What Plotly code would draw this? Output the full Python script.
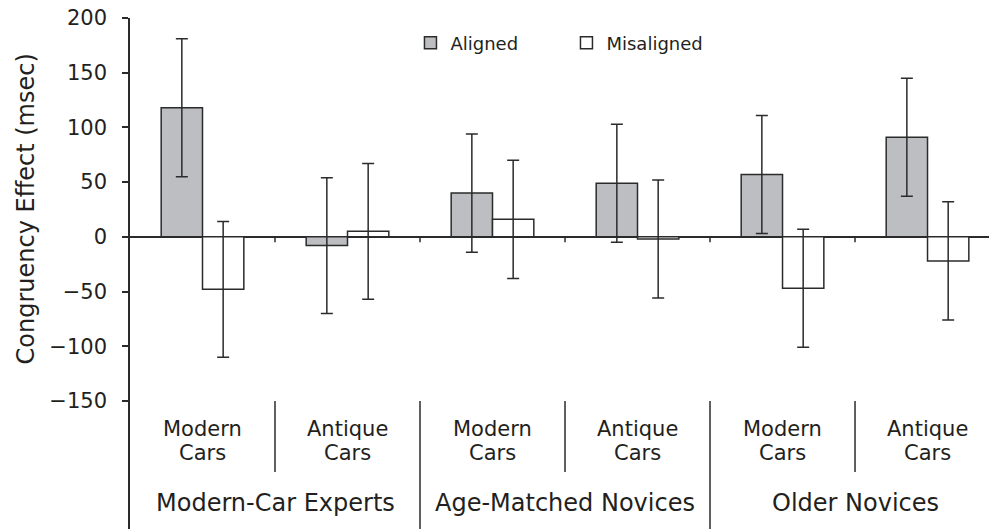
import plotly.graph_objects as go

subcats = ["Modern<br>Cars", "Antique<br>Cars", "Modern<br>Cars", "Antique<br>Cars", "Modern<br>Cars", "Antique<br>Cars"]
groups = ["Modern-Car Experts", "Age-Matched Novices", "Older Novices"]
aligned = [118, -8, 40, 49, 57, 91]
aligned_err = [63, 62, 54, 54, 54, 54]
misaligned = [-48, 5, 16, -2, -47, -22]
misaligned_err = [62, 62, 54, 54, 54, 54]
ytick_vals = [-150, -100, -50, 0, 50, 100, 150, 200]
ytick_text = ["\u2212150", "\u2212100", "\u221250", "0", "50", "100", "150", "200"]
y_title = "Congruency Effect (msec)"

INK = "#231f20"
LINE = "#2b2b2b"
FONT = "DejaVu Sans"
x = list(range(len(subcats)))

fig = go.Figure()
fig.add_trace(go.Bar(
    x=x, y=aligned, name="Aligned",
    marker=dict(color="#bdbec2", line=dict(color=LINE, width=1.5)),
    error_y=dict(type="data", array=aligned_err, visible=True, color=LINE, thickness=1.5, width=6),
))
fig.add_trace(go.Bar(
    x=x, y=misaligned, name="Misaligned",
    marker=dict(color="#ffffff", line=dict(color=LINE, width=1.5)),
    error_y=dict(type="data", array=misaligned_err, visible=True, color=LINE, thickness=1.5, width=6),
))

shapes = []
# small ticks under zero line at category boundaries
for b in [0.5, 1.5, 2.5, 3.5, 4.5]:
    shapes.append(dict(type="line", xref="x", yref="y", x0=b, x1=b, y0=0, y1=-5,
                       line=dict(color=LINE, width=1.5)))
# dividers in label area
for b in [0.5, 2.5, 4.5]:
    shapes.append(dict(type="line", xref="x", yref="y", x0=b, x1=b, y0=-150, y1=-215,
                       line=dict(color=LINE, width=1.5)))
for b in [1.5, 3.5]:
    shapes.append(dict(type="line", xref="x", yref="y", x0=b, x1=b, y0=-150, y1=-270,
                       line=dict(color=LINE, width=1.5)))

annotations = []
line_y = [-175.5, -197.4]
for i, s in enumerate(subcats):
    for k, part in enumerate(s.split("<br>")):
        annotations.append(dict(x=i, y=line_y[k], xref="x", yref="y", text=part, showarrow=False,
                                font=dict(family=FONT, size=21, color=INK), align="center"))
for g, gname in enumerate(groups):
    annotations.append(dict(x=2 * g + 0.5, y=-243, xref="x", yref="y", text=gname, showarrow=False,
                            font=dict(family=FONT, size=24, color=INK)))
annotations.append(dict(x=0, y=25, xref="paper", yref="y", text=y_title, textangle=-90,
                        showarrow=False, xanchor="center", yanchor="middle", xshift=-104,
                        font=dict(family=FONT, size=24, color=INK)))

fig.update_layout(
    width=989, height=529,
    margin=dict(l=130, r=0, t=18, b=0),
    paper_bgcolor="white", plot_bgcolor="white",
    barmode="group", bargap=0.43, bargroupgap=0,
    font=dict(family=FONT, color=INK),
    showlegend=True,
    legend=dict(orientation="h", x=0.3265, y=0.987, xanchor="left", yanchor="top",
                font=dict(family=FONT, size=18, color=INK),
                entrywidth=111, bgcolor="rgba(0,0,0,0)"),
    xaxis=dict(range=[-0.5, 5.424], showticklabels=False, showgrid=False, zeroline=False,
               showline=False, ticks="", automargin=False),
    yaxis=dict(range=[-267, 200], tickvals=ytick_vals, ticktext=ytick_text, automargin=False,
               showgrid=False, zeroline=True, zerolinecolor=LINE, zerolinewidth=1.5,
               showline=True, linecolor=LINE, linewidth=1.5, ticks="outside", ticklen=6,
               tickcolor=LINE, tickwidth=1.5, tickfont=dict(family=FONT, size=21, color=INK),
               ticklabelstandoff=11),
    shapes=shapes,
    annotations=annotations,
)

fig.write_html("out.html", config={"displayModeBar": False},
               post_script="document.body.style.margin='0';")
